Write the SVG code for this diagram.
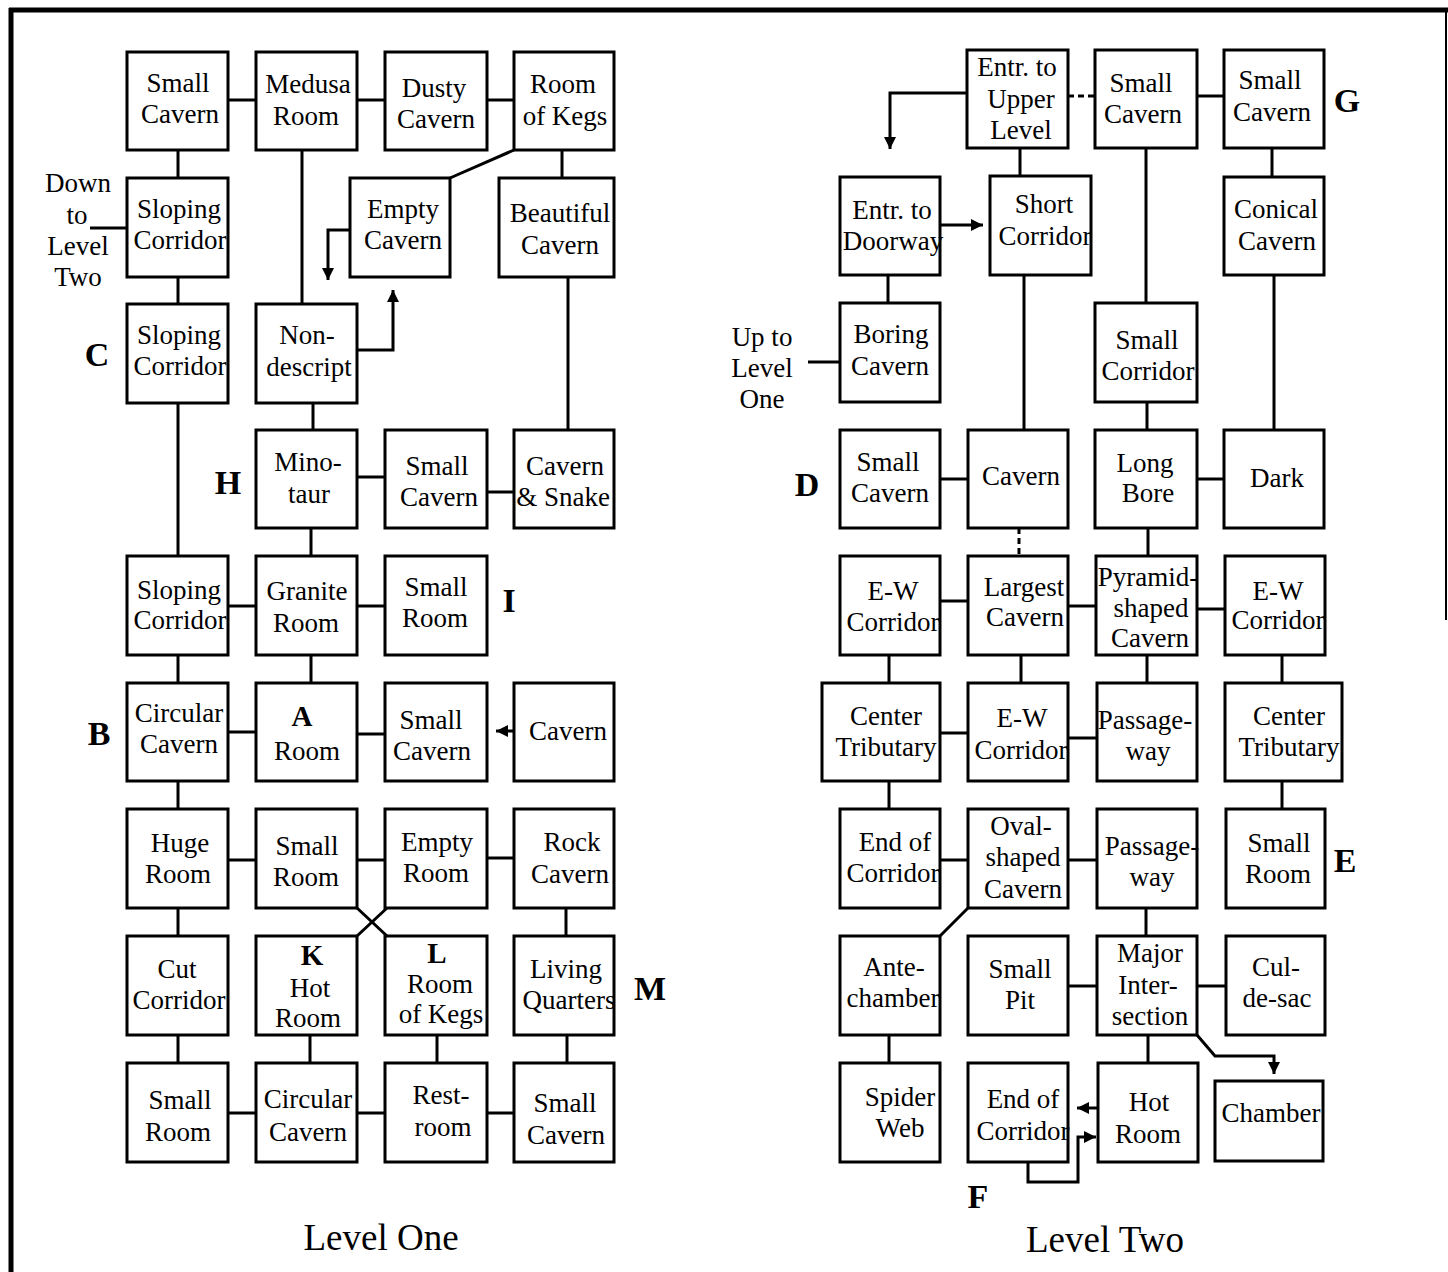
<svg xmlns="http://www.w3.org/2000/svg" width="1448" height="1272" viewBox="0 0 1448 1272">
<style>
.box{fill:#fff;stroke:#000;stroke-width:3}
.t{font-family:"Liberation Serif","Times New Roman",serif;font-size:27px;text-anchor:middle;fill:#000}
.b{font-family:"Liberation Serif","Times New Roman",serif;font-size:34px;font-weight:bold;text-anchor:middle;fill:#000}
.bi{font-family:"Liberation Serif","Times New Roman",serif;font-size:29px;font-weight:bold;text-anchor:middle;fill:#000}
.title{font-family:"Liberation Serif","Times New Roman",serif;font-size:37px;text-anchor:middle;fill:#000}
.c{stroke:#000;stroke-width:3;fill:none}
.d{stroke:#000;stroke-width:3;fill:none;stroke-dasharray:6,4}
.a{stroke:#000;stroke-width:3;fill:none;marker-end:url(#arr)}
</style>
<defs>
<marker id="arr" markerUnits="userSpaceOnUse" markerWidth="12" markerHeight="12" refX="10" refY="5" orient="auto" viewBox="0 0 10 10">
<path d="M0,0 L10,5 L0,10 z" fill="#000"/>
</marker>
</defs>
<rect width="1448" height="1272" fill="#fff"/>
<g id="frame">
<line x1="9" y1="10" x2="1448" y2="10" stroke="#000" stroke-width="5"/>
<line x1="11" y1="8" x2="11" y2="1272" stroke="#000" stroke-width="5"/>
<line x1="1446" y1="8" x2="1446" y2="620" stroke="#000" stroke-width="2"/>
</g>
<g id="connectors">
<line class="c" x1="228" y1="100" x2="256" y2="100"/>
<line class="c" x1="357" y1="100" x2="385" y2="100"/>
<line class="c" x1="487" y1="100" x2="514" y2="100"/>
<line class="c" x1="178" y1="150" x2="178" y2="178"/>
<line class="c" x1="178" y1="277" x2="178" y2="304"/>
<line class="c" x1="90" y1="228" x2="127" y2="228"/>
<line class="c" x1="302" y1="150" x2="302" y2="304"/>
<line class="c" x1="514" y1="150" x2="450" y2="178"/>
<line class="c" x1="562" y1="150" x2="562" y2="178"/>
<polyline class="a" points="350,230 328,230 328,280"/>
<polyline class="a" points="357,350 393,350 393,290"/>
<line class="c" x1="568" y1="277" x2="568" y2="430"/>
<line class="c" x1="178" y1="403" x2="178" y2="556"/>
<line class="c" x1="313" y1="403" x2="313" y2="430"/>
<line class="c" x1="357" y1="477" x2="385" y2="477"/>
<line class="c" x1="487" y1="492" x2="514" y2="492"/>
<line class="c" x1="311" y1="528" x2="311" y2="556"/>
<line class="c" x1="228" y1="606" x2="256" y2="606"/>
<line class="c" x1="357" y1="606" x2="385" y2="606"/>
<line class="c" x1="178" y1="655" x2="178" y2="683"/>
<line class="c" x1="311" y1="655" x2="311" y2="683"/>
<line class="c" x1="228" y1="732" x2="256" y2="732"/>
<line class="c" x1="357" y1="734" x2="385" y2="734"/>
<line class="a" x1="514" y1="731" x2="496" y2="731"/>
<line class="c" x1="178" y1="781" x2="178" y2="809"/>
<line class="c" x1="228" y1="860" x2="256" y2="860"/>
<line class="c" x1="357" y1="860" x2="385" y2="860"/>
<line class="c" x1="487" y1="858" x2="514" y2="858"/>
<line class="c" x1="357" y1="908" x2="387" y2="936"/>
<line class="c" x1="387" y1="908" x2="357" y2="936"/>
<line class="c" x1="178" y1="908" x2="178" y2="936"/>
<line class="c" x1="566" y1="908" x2="566" y2="936"/>
<line class="c" x1="178" y1="1035" x2="178" y2="1063"/>
<line class="c" x1="310" y1="1035" x2="310" y2="1063"/>
<line class="c" x1="437" y1="1035" x2="437" y2="1063"/>
<line class="c" x1="567" y1="1035" x2="567" y2="1063"/>
<line class="c" x1="228" y1="1113" x2="256" y2="1113"/>
<line class="c" x1="357" y1="1113" x2="385" y2="1113"/>
<line class="c" x1="487" y1="1113" x2="514" y2="1113"/>
<polyline class="a" points="967,93 890,93 890,149"/>
<line class="d" x1="1068" y1="96" x2="1095" y2="96"/>
<line class="c" x1="1197" y1="96" x2="1224" y2="96"/>
<line class="c" x1="1020" y1="148" x2="1020" y2="176"/>
<line class="c" x1="1146" y1="148" x2="1146" y2="303"/>
<line class="c" x1="1272" y1="148" x2="1272" y2="177"/>
<line class="a" x1="940" y1="225" x2="983" y2="225"/>
<line class="c" x1="888" y1="275" x2="888" y2="303"/>
<line class="c" x1="808" y1="362" x2="840" y2="362"/>
<line class="c" x1="1024" y1="275" x2="1024" y2="430"/>
<line class="c" x1="1147" y1="402" x2="1147" y2="430"/>
<line class="c" x1="1274" y1="275" x2="1274" y2="430"/>
<line class="c" x1="940" y1="479" x2="968" y2="479"/>
<line class="c" x1="1197" y1="479" x2="1224" y2="479"/>
<line class="d" x1="1019" y1="528" x2="1019" y2="556"/>
<line class="c" x1="1148" y1="528" x2="1148" y2="556"/>
<line class="c" x1="940" y1="601" x2="968" y2="601"/>
<line class="c" x1="1068" y1="606" x2="1096" y2="606"/>
<line class="c" x1="1197" y1="609" x2="1225" y2="609"/>
<line class="c" x1="889" y1="655" x2="889" y2="683"/>
<line class="c" x1="1021" y1="655" x2="1021" y2="683"/>
<line class="c" x1="1147" y1="655" x2="1147" y2="683"/>
<line class="c" x1="1282" y1="655" x2="1282" y2="683"/>
<line class="c" x1="940" y1="733" x2="968" y2="733"/>
<line class="c" x1="1068" y1="738" x2="1097" y2="738"/>
<line class="c" x1="889" y1="781" x2="889" y2="809"/>
<line class="c" x1="1282" y1="781" x2="1282" y2="809"/>
<line class="c" x1="940" y1="860" x2="968" y2="860"/>
<line class="c" x1="1068" y1="860" x2="1097" y2="860"/>
<line class="c" x1="968" y1="908" x2="940" y2="936"/>
<line class="c" x1="1146" y1="908" x2="1146" y2="936"/>
<line class="c" x1="1068" y1="986" x2="1097" y2="986"/>
<line class="c" x1="1197" y1="986" x2="1226" y2="986"/>
<line class="c" x1="889" y1="1035" x2="889" y2="1063"/>
<line class="c" x1="1148" y1="1035" x2="1148" y2="1063"/>
<polyline class="a" points="1197,1035 1215,1056 1274,1056 1274,1074"/>
<line class="a" x1="1098" y1="1108" x2="1077" y2="1108"/>
<polyline class="a" points="1028,1162 1028,1182 1078,1182 1078,1137 1096,1137"/>
</g>
<g id="n1"><rect class="box" x="127" y="52" width="101" height="98"/><text class="t" x="178" y="92">Small</text><text class="t" x="180" y="123">Cavern</text></g>
<g id="n2"><rect class="box" x="256" y="52" width="101" height="98"/><text class="t" x="308" y="93">Medusa</text><text class="t" x="306" y="125">Room</text></g>
<g id="n3"><rect class="box" x="385" y="52" width="102" height="98"/><text class="t" x="434" y="97">Dusty</text><text class="t" x="436" y="128">Cavern</text></g>
<g id="n4"><rect class="box" x="514" y="52" width="100" height="98"/><text class="t" x="563" y="93">Room</text><text class="t" x="565" y="125">of Kegs</text></g>
<g id="n5"><rect class="box" x="127" y="178" width="101" height="99"/><text class="t" x="179" y="218">Sloping</text><text class="t" x="180" y="249">Corridor</text></g>
<g id="n6"><rect class="box" x="350" y="178" width="100" height="99"/><text class="t" x="403" y="218">Empty</text><text class="t" x="403" y="249">Cavern</text></g>
<g id="n7"><rect class="box" x="499" y="178" width="115" height="99"/><text class="t" x="560" y="222">Beautiful</text><text class="t" x="560" y="254">Cavern</text></g>
<g id="n8"><rect class="box" x="127" y="304" width="101" height="99"/><text class="t" x="179" y="344">Sloping</text><text class="t" x="180" y="375">Corridor</text></g>
<g id="n9"><rect class="box" x="256" y="304" width="101" height="99"/><text class="t" x="307" y="344">Non-</text><text class="t" x="309" y="376">descript</text></g>
<g id="n10"><rect class="box" x="256" y="430" width="101" height="98"/><text class="t" x="308" y="471">Mino-</text><text class="t" x="309" y="503">taur</text></g>
<g id="n11"><rect class="box" x="385" y="430" width="102" height="98"/><text class="t" x="437" y="475">Small</text><text class="t" x="439" y="506">Cavern</text></g>
<g id="n12"><rect class="box" x="514" y="430" width="100" height="98"/><text class="t" x="565" y="475">Cavern</text><text class="t" x="563" y="506">&amp; Snake</text></g>
<g id="n13"><rect class="box" x="127" y="556" width="101" height="99"/><text class="t" x="179" y="599">Sloping</text><text class="t" x="180" y="629">Corridor</text></g>
<g id="n14"><rect class="box" x="256" y="556" width="101" height="99"/><text class="t" x="307" y="600">Granite</text><text class="t" x="306" y="632">Room</text></g>
<g id="n15"><rect class="box" x="385" y="556" width="102" height="99"/><text class="t" x="436" y="596">Small</text><text class="t" x="435" y="627">Room</text></g>
<g id="n16"><rect class="box" x="127" y="683" width="101" height="98"/><text class="t" x="179" y="722">Circular</text><text class="t" x="179" y="753">Cavern</text></g>
<g id="n17"><rect class="box" x="256" y="683" width="101" height="98"/><text class="bi" x="302" y="726">A</text><text class="t" x="307" y="760">Room</text></g>
<g id="n18"><rect class="box" x="385" y="683" width="102" height="98"/><text class="t" x="431" y="729">Small</text><text class="t" x="432" y="760">Cavern</text></g>
<g id="n19"><rect class="box" x="514" y="683" width="100" height="98"/><text class="t" x="568" y="740">Cavern</text></g>
<g id="n20"><rect class="box" x="127" y="809" width="101" height="99"/><text class="t" x="180" y="852">Huge</text><text class="t" x="178" y="883">Room</text></g>
<g id="n21"><rect class="box" x="256" y="809" width="101" height="99"/><text class="t" x="307" y="855">Small</text><text class="t" x="306" y="886">Room</text></g>
<g id="n22"><rect class="box" x="385" y="809" width="102" height="99"/><text class="t" x="437" y="851">Empty</text><text class="t" x="436" y="882">Room</text></g>
<g id="n23"><rect class="box" x="514" y="809" width="100" height="99"/><text class="t" x="572" y="851">Rock</text><text class="t" x="570" y="883">Cavern</text></g>
<g id="n24"><rect class="box" x="127" y="936" width="101" height="99"/><text class="t" x="177" y="978">Cut</text><text class="t" x="179" y="1009">Corridor</text></g>
<g id="n25"><rect class="box" x="256" y="936" width="101" height="99"/><text class="bi" x="312" y="965">K</text><text class="t" x="310" y="997">Hot</text><text class="t" x="308" y="1027">Room</text></g>
<g id="n26"><rect class="box" x="385" y="936" width="102" height="99"/><text class="bi" x="437" y="963">L</text><text class="t" x="440" y="993">Room</text><text class="t" x="441" y="1023">of Kegs</text></g>
<g id="n27"><rect class="box" x="514" y="936" width="100" height="99"/><text class="t" x="566" y="978">Living</text><text class="t" x="569" y="1009">Quarters</text></g>
<g id="n28"><rect class="box" x="127" y="1063" width="101" height="99"/><text class="t" x="180" y="1109">Small</text><text class="t" x="178" y="1141">Room</text></g>
<g id="n29"><rect class="box" x="256" y="1063" width="101" height="99"/><text class="t" x="308" y="1108">Circular</text><text class="t" x="308" y="1141">Cavern</text></g>
<g id="n30"><rect class="box" x="385" y="1063" width="102" height="99"/><text class="t" x="441" y="1104">Rest-</text><text class="t" x="443" y="1136">room</text></g>
<g id="n31"><rect class="box" x="514" y="1063" width="100" height="99"/><text class="t" x="565" y="1112">Small</text><text class="t" x="566" y="1144">Cavern</text></g>
<g id="m1"><rect class="box" x="967" y="50" width="101" height="98"/><text class="t" x="1017" y="76">Entr. to</text><text class="t" x="1021" y="108">Upper</text><text class="t" x="1021" y="139">Level</text></g>
<g id="m2"><rect class="box" x="1095" y="50" width="102" height="98"/><text class="t" x="1141" y="92">Small</text><text class="t" x="1143" y="123">Cavern</text></g>
<g id="m3"><rect class="box" x="1224" y="50" width="100" height="98"/><text class="t" x="1270" y="89">Small</text><text class="t" x="1272" y="121">Cavern</text></g>
<g id="m4"><rect class="box" x="840" y="177" width="100" height="98"/><text class="t" x="892" y="219">Entr. to</text><text class="t" x="893" y="250">Doorway</text></g>
<g id="m5"><rect class="box" x="990" y="176" width="101" height="99"/><text class="t" x="1044" y="213">Short</text><text class="t" x="1045" y="245">Corridor</text></g>
<g id="m6"><rect class="box" x="1224" y="177" width="100" height="98"/><text class="t" x="1276" y="218">Conical</text><text class="t" x="1277" y="250">Cavern</text></g>
<g id="m7"><rect class="box" x="840" y="303" width="100" height="99"/><text class="t" x="891" y="343">Boring</text><text class="t" x="890" y="375">Cavern</text></g>
<g id="m8"><rect class="box" x="1095" y="303" width="102" height="99"/><text class="t" x="1147" y="349">Small</text><text class="t" x="1148" y="380">Corridor</text></g>
<g id="m9"><rect class="box" x="840" y="430" width="100" height="98"/><text class="t" x="888" y="471">Small</text><text class="t" x="890" y="502">Cavern</text></g>
<g id="m10"><rect class="box" x="968" y="430" width="100" height="98"/><text class="t" x="1021" y="485">Cavern</text></g>
<g id="m11"><rect class="box" x="1095" y="430" width="102" height="98"/><text class="t" x="1145" y="472">Long</text><text class="t" x="1148" y="502">Bore</text></g>
<g id="m12"><rect class="box" x="1224" y="430" width="100" height="98"/><text class="t" x="1277" y="487">Dark</text></g>
<g id="m13"><rect class="box" x="840" y="556" width="100" height="99"/><text class="t" x="893" y="600">E-W</text><text class="t" x="893" y="631">Corridor</text></g>
<g id="m14"><rect class="box" x="968" y="556" width="100" height="99"/><text class="t" x="1024" y="596">Largest</text><text class="t" x="1025" y="626">Cavern</text></g>
<g id="m15"><rect class="box" x="1096" y="556" width="101" height="99"/><text class="t" x="1148" y="586">Pyramid-</text><text class="t" x="1151" y="617">shaped</text><text class="t" x="1150" y="647">Cavern</text></g>
<g id="m16"><rect class="box" x="1225" y="556" width="100" height="99"/><text class="t" x="1278" y="600">E-W</text><text class="t" x="1278" y="629">Corridor</text></g>
<g id="m17"><rect class="box" x="822" y="683" width="118" height="98"/><text class="t" x="886" y="725">Center</text><text class="t" x="886" y="756">Tributary</text></g>
<g id="m18"><rect class="box" x="968" y="683" width="100" height="98"/><text class="t" x="1022" y="727">E-W</text><text class="t" x="1021" y="759">Corridor</text></g>
<g id="m19"><rect class="box" x="1097" y="683" width="100" height="98"/><text class="t" x="1145" y="729">Passage-</text><text class="t" x="1148" y="760">way</text></g>
<g id="m20"><rect class="box" x="1225" y="683" width="117" height="98"/><text class="t" x="1289" y="725">Center</text><text class="t" x="1289" y="756">Tributary</text></g>
<g id="m21"><rect class="box" x="840" y="809" width="100" height="99"/><text class="t" x="895" y="851">End of</text><text class="t" x="893" y="882">Corridor</text></g>
<g id="m22"><rect class="box" x="968" y="809" width="100" height="99"/><text class="t" x="1021" y="835">Oval-</text><text class="t" x="1023" y="866">shaped</text><text class="t" x="1023" y="898">Cavern</text></g>
<g id="m23"><rect class="box" x="1097" y="809" width="100" height="99"/><text class="t" x="1152" y="855">Passage-</text><text class="t" x="1152" y="886">way</text></g>
<g id="m24"><rect class="box" x="1226" y="809" width="99" height="99"/><text class="t" x="1279" y="852">Small</text><text class="t" x="1278" y="883">Room</text></g>
<g id="m25"><rect class="box" x="840" y="936" width="100" height="99"/><text class="t" x="894" y="976">Ante-</text><text class="t" x="893" y="1007">chamber</text></g>
<g id="m26"><rect class="box" x="968" y="936" width="100" height="99"/><text class="t" x="1020" y="978">Small</text><text class="t" x="1020" y="1009">Pit</text></g>
<g id="m27"><rect class="box" x="1097" y="936" width="100" height="99"/><text class="t" x="1150" y="962">Major</text><text class="t" x="1148" y="994">Inter-</text><text class="t" x="1150" y="1025">section</text></g>
<g id="m28"><rect class="box" x="1226" y="936" width="99" height="99"/><text class="t" x="1276" y="976">Cul-</text><text class="t" x="1277" y="1007">de-sac</text></g>
<g id="m29"><rect class="box" x="840" y="1063" width="100" height="99"/><text class="t" x="900" y="1106">Spider</text><text class="t" x="900" y="1137">Web</text></g>
<g id="m30"><rect class="box" x="968" y="1063" width="100" height="99"/><text class="t" x="1023" y="1108">End of</text><text class="t" x="1023" y="1140">Corridor</text></g>
<g id="m31"><rect class="box" x="1098" y="1063" width="100" height="99"/><text class="t" x="1149" y="1111">Hot</text><text class="t" x="1148" y="1143">Room</text></g>
<g id="m32"><rect class="box" x="1215" y="1081" width="108" height="80"/><text class="t" x="1271" y="1122">Chamber</text></g>
<g id="labels">
<text class="t" x="78" y="192">Down</text>
<text class="t" x="77" y="224">to</text>
<text class="t" x="78" y="255">Level</text>
<text class="t" x="78" y="286">Two</text>
<text class="t" x="762" y="346">Up to</text>
<text class="t" x="762" y="377">Level</text>
<text class="t" x="762" y="408">One</text>
<text class="b" x="97" y="366">C</text>
<text class="b" x="228" y="494">H</text>
<text class="b" x="509" y="612">I</text>
<text class="b" x="99" y="745">B</text>
<text class="b" x="650" y="1000">M</text>
<text class="b" x="1347" y="112">G</text>
<text class="b" x="807" y="496">D</text>
<text class="b" x="1345" y="872">E</text>
<text class="b" x="978" y="1208">F</text>
<text class="title" x="381" y="1250">Level One</text>
<text class="title" x="1105" y="1252">Level Two</text>
</g>
</svg>
